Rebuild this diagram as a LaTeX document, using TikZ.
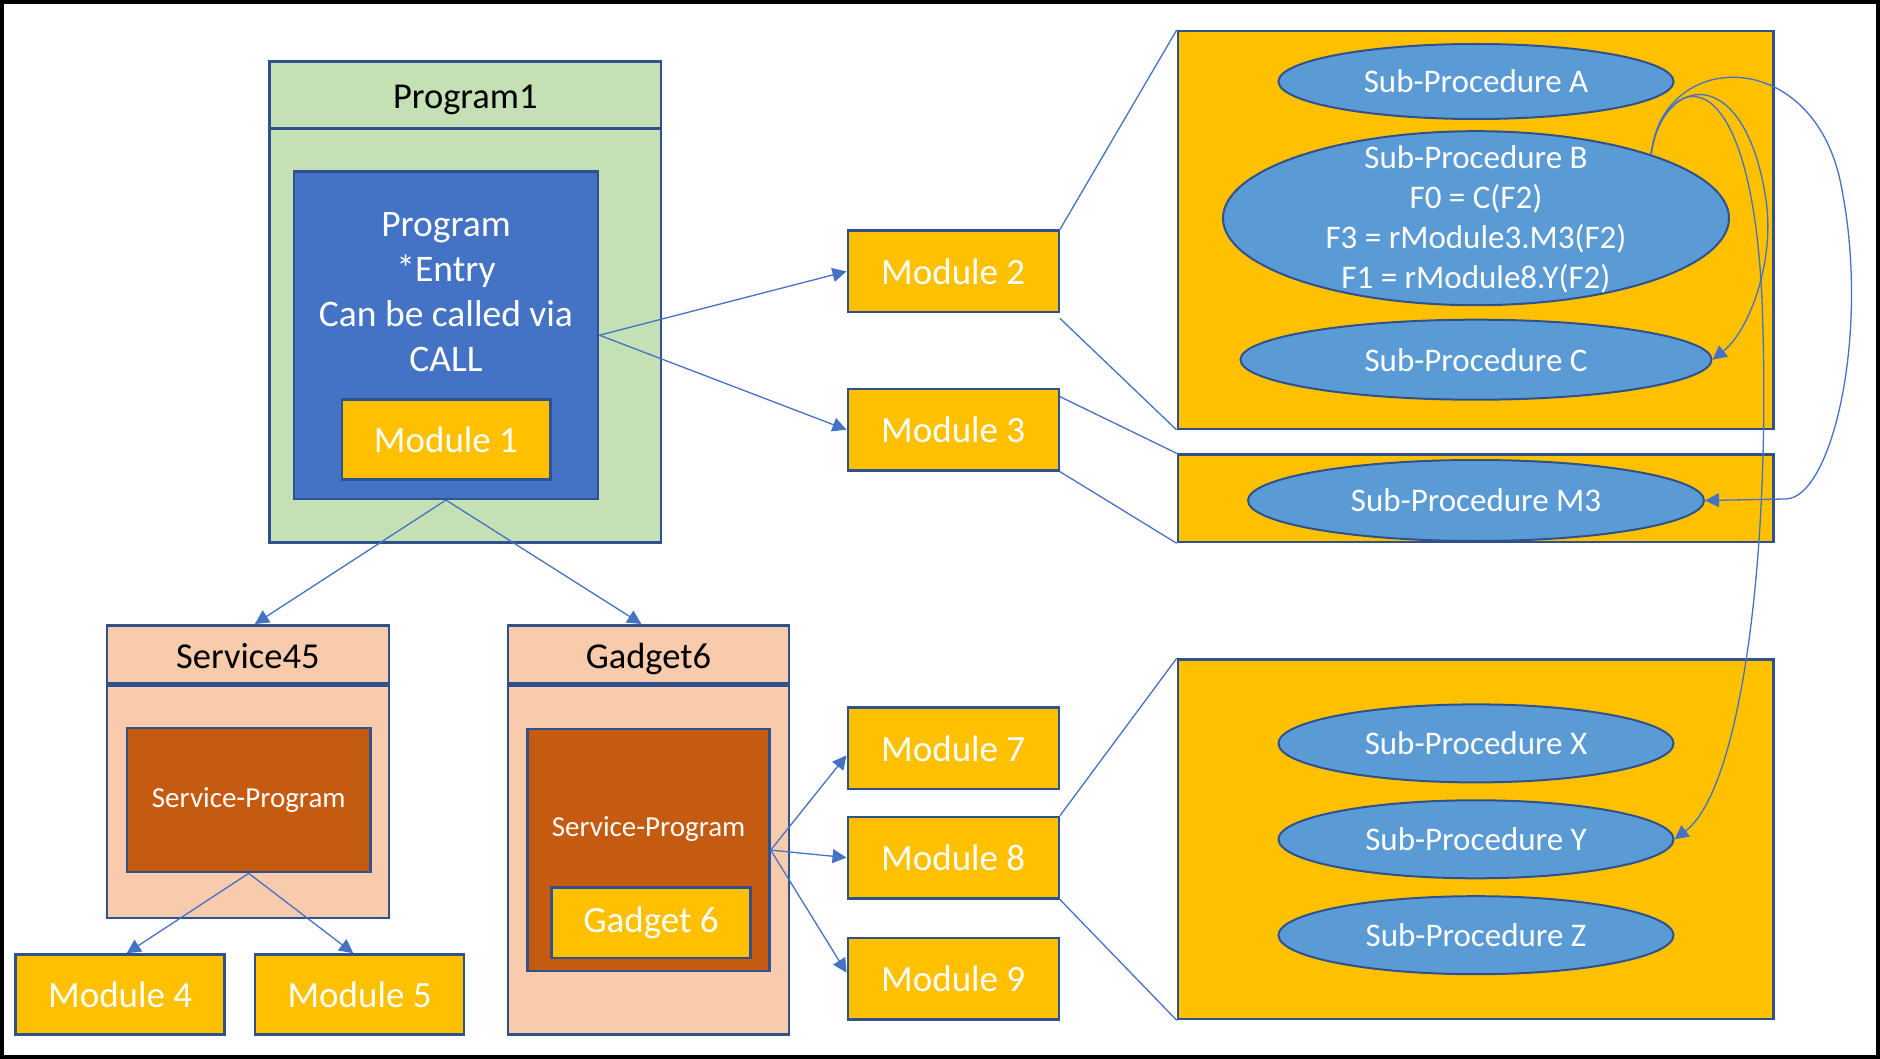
\documentclass[tikz,border=0pt]{standalone}
\usepackage{fontspec}
\setmainfont{Carlito}
\usetikzlibrary{arrows.meta,shapes.geometric}
\definecolor{modgold}{HTML}{FFC000}
\definecolor{edgeblue}{HTML}{2F528F}
\definecolor{progblue}{HTML}{4472C4}
\definecolor{procblue}{HTML}{5B9BD5}
\definecolor{progreen}{HTML}{C5E0B4}
\definecolor{peach}{HTML}{F8CBAD}
\definecolor{rust}{HTML}{C55A11}

\begin{document}
\begin{tikzpicture}
  [x=1pt, y=-1pt,
   every node/.style={inner sep=0pt},
   box/.style={draw=edgeblue, line width=2.5pt, rectangle},
   module/.style={box, fill=modgold, text=white, font=\fontsize{37}{44}\selectfont,
                  minimum width=211pt, minimum height=81.5pt},
   headbox/.style={box, text=black, font=\fontsize{36.5}{44}\selectfont,
                   text height=28pt, text depth=0pt},
   proc/.style={draw=edgeblue, line width=2pt, ellipse, fill=procblue, text=white,
                font=\fontsize{33}{40}\selectfont, minimum width=395pt, minimum height=78pt},
   whitetext/.style={text=white, align=center},
   link/.style={draw=progblue, line width=1.3pt},
   callarrow/.style={link, -{Triangle[length=14pt,width=14pt]}}]
  \useasboundingbox (0,0) rectangle (1880,1059);
  \draw [line width=4pt] (2,2) rectangle (1878,1057);

  \node [headbox, fill=progreen, minimum width=391.5pt, minimum height=66.8pt] (p1head) at (465.3,94.9) {Program1};
  \node [box, fill=progreen, minimum width=391.5pt, minimum height=414pt] (p1) at (465.3,335.3) {};
  \node [box, fill=progblue, minimum width=304.4pt, minimum height=327.2pt] (prog) at (446,335.2) {};
  \node [whitetext, font=\fontsize{37.5}{44.8}\selectfont] (progtxt) at (446,292)
        {Program\\*Entry\\Can be called via\\CALL};
  \node [module, minimum width=208.5pt, minimum height=80.3pt] (m1) at (446,439.4) {Module 1};

  \node [module] (m2) at (953.25,271.4) {Module 2};
  \node [module] (m3) at (953.25,429.7) {Module 3};
  \node [module] (m7) at (953.25,748.3) {Module 7};
  \node [module] (m8) at (953.25,857.6) {Module 8};
  \node [module] (m9) at (953.25,978.7) {Module 9};

  \node [headbox, fill=peach, minimum width=281.8pt, minimum height=58.1pt] (s45head) at (247.85,654.3) {Service45};
  \node [box, fill=peach, minimum width=281.8pt, minimum height=231.9pt] (s45) at (247.85,801.8) {};
  \node [box, fill=rust, text=white, font=\fontsize{29}{35}\selectfont,
         minimum width=243.5pt, minimum height=144.2pt] (sp1) at (248.7,800) {Service-Program};
  \node [module, minimum width=209pt, minimum height=80.2pt] (m4) at (120.2,994.6) {Module 4};
  \node [module, minimum width=209pt, minimum height=80.2pt] (m5) at (359.6,994.6) {Module 5};

  \node [headbox, fill=peach, minimum width=280.9pt, minimum height=58.1pt] (g6head) at (648.4,654.3) {Gadget6};
  \node [box, fill=peach, minimum width=280.9pt, minimum height=348.8pt] (g6) at (648.4,860.25) {};
  \node [box, fill=rust, minimum width=241.8pt, minimum height=242.1pt] (sp2) at (648.55,850.1) {};
  \node [whitetext, font=\fontsize{29}{35}\selectfont] (sp2txt) at (648.55,829.5) {Service-Program};
  \node [module, minimum width=199pt, minimum height=70.7pt] (gad6) at (651,922.6) {Gadget 6};

  \node [box, fill=modgold, minimum width=595.3pt, minimum height=397.5pt] (topbox) at (1475.6,230) {};
  \node [box, fill=modgold, minimum width=595.3pt, minimum height=87.5pt] (m3box) at (1475.6,498.3) {};
  \node [box, fill=modgold, minimum width=595.3pt, minimum height=359.5pt] (botbox) at (1475.6,839.3) {};

  \node [proc, minimum height=75pt] (spa) at (1476,81.5) {Sub-Procedure A};
  \node [proc, minimum width=506pt, minimum height=174pt] (spb) at (1476,218.2) {};
  \node [whitetext, font=\fontsize{33}{40}\selectfont] (spbtxt) at (1476,219.5)
        {Sub-Procedure B\\F0 = C(F2)\\F3 = rModule3.M3(F2)\\F1 = rModule8.Y(F2)};
  \node [proc, minimum width=471pt, minimum height=80pt] (spc) at (1476,359.7) {Sub-Procedure C};
  \node [proc, minimum width=456pt, minimum height=81pt] (spm3) at (1476,500.5) {Sub-Procedure M3};
  \node [proc] (spx) at (1476,743.4) {Sub-Procedure X};
  \node [proc] (spy) at (1476,839.3) {Sub-Procedure Y};
  \node [proc] (spz) at (1476,935.2) {Sub-Procedure Z};

  \draw [callarrow] (prog.east) -- (m2.west);
  \draw [callarrow] (prog.east) -- (m3.west);
  \draw [callarrow] (prog.south) -- ([xshift=7pt]s45head.north);
  \draw [callarrow] (prog.south) -- ([xshift=-7pt]g6head.north);
  \draw [callarrow] (sp1.south) -- ([xshift=6.5pt]m4.north);
  \draw [callarrow] (sp1.south) -- ([xshift=-6.3pt]m5.north);
  \draw [callarrow] (sp2.east) -- ([yshift=-7pt]m7.west);
  \draw [callarrow] (sp2.east) -- (m8.west);
  \draw [callarrow] (sp2.east) -- ([yshift=6pt]m9.west);

  \draw [link] (m2.north east) -- (topbox.north west);
  \draw [link] ([yshift=-5pt]m2.south east) -- (topbox.south west);
  \draw [link] ([yshift=-9pt]m3.north east) -- (m3box.north west);
  \draw [link] (m3.south east) -- (m3box.south west);
  \draw [link] (m8.north east) -- (botbox.north west);
  \draw [link] (m8.south east) -- (botbox.south west);

  \draw [callarrow] (spb.20) .. controls (1662,75) and (1745,60) .. (1766,200)
                    .. controls (1775,260) and (1750,330) .. (spc.east);
  \draw [callarrow] (spb.20) .. controls (1661,75) and (1750,40) .. (1762,300)
                    .. controls (1772,560) and (1740,790) .. (spy.east);
  \draw [callarrow] (spb.20) .. controls (1662,50) and (1810,45) .. (1840,180)
                    .. controls (1872,330) and (1832,500) .. (1785,499) -- (spm3.east);
\end{tikzpicture}
\end{document}
